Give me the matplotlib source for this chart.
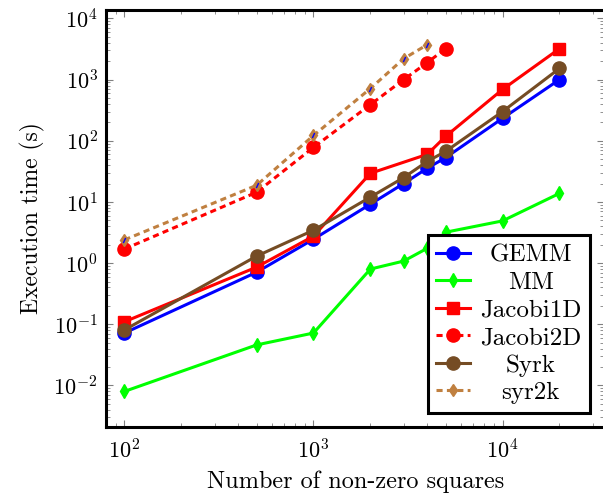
import matplotlib
matplotlib.use("Agg")
import matplotlib.pyplot as plt
from matplotlib.ticker import NullFormatter, LogLocator

plt.rcParams['font.family'] = ['cmr10', 'DejaVu Serif']
plt.rcParams['mathtext.fontset'] = 'cm'
plt.rcParams['axes.formatter.use_mathtext'] = True

x_all = [100, 500, 1000, 2000, 3000, 4000, 5000, 10000, 20000]
x_j1 = [100, 500, 1000, 2000, 4000, 5000, 10000, 20000]
x_j2 = [100, 500, 1000, 2000, 3000, 4000, 5000]
x_s2 = [100, 500, 1000, 2000, 3000, 4000]

gemm = [0.072, 0.71, 2.46, 9.2, 20, 35.6, 53, 233, 1000]
mm = [0.008, 0.046, 0.072, 0.8, 1.08, 1.75, 3.2, 4.9, 13.8]
jacobi1d = [0.11, 0.86, 2.76, 29.4, 60, 118, 690, 3200]
jacobi2d = [1.7, 14.4, 78, 390, 1000, 1900, 3200]
syrk = [0.081, 1.3, 3.45, 12, 25, 46, 67, 300, 1520]
syr2k = [2.4, 18.7, 122, 715, 2200, 3720]

x_ticks = [1e2, 1e3, 1e4]
y_ticks = [1e-2, 1e-1, 1e0, 1e1, 1e2, 1e3, 1e4]

fig = plt.figure(figsize=(6.03, 4.93), dpi=100)
ax = fig.add_axes([0.176, 0.134, 0.826, 0.846])

lw = 2.2
ms = 9.5
ax.plot(x_all, gemm, color='#0000ff', lw=lw, marker='o', ms=ms, label='GEMM')
ax.plot(x_all, mm, color='#00ff00', lw=lw, marker='d', ms=7.5, mfc='#00ff00', mec='#00ff00', label='MM')
ax.plot(x_j1, jacobi1d, color='#ff0000', lw=lw, marker='s', ms=9, label='Jacobi1D')
ax.plot(x_j2, jacobi2d, color='#ff0000', lw=lw, ls=(0, (2.0, 1.4)), marker='o', ms=ms, label='Jacobi2D')
ax.plot(x_all, syrk, color='#754c24', lw=lw, marker='o', ms=ms, label='Syrk')
ax.plot(x_s2, syr2k, color='#c08040', lw=lw, ls=(0, (2.0, 1.4)), marker='d', ms=6, mfc='#c08040', mec='#c08040', label='syr2k')
ax.plot(x_s2, syr2k, ls='none', marker=(2, 0, -25), ms=4, mec='#0000ff', mew=1.0)

ax.set_xscale('log')
ax.set_yscale('log')
ax.set_xlim(80, 34500)
ax.set_ylim(0.0021, 13800)
ax.set_xticks(x_ticks)
ax.set_yticks(y_ticks)
ax.xaxis.set_minor_locator(LogLocator(base=10, subs=range(2, 10), numticks=20))
ax.yaxis.set_minor_locator(LogLocator(base=10, subs=range(2, 10), numticks=20))
ax.xaxis.set_minor_formatter(NullFormatter())
ax.yaxis.set_minor_formatter(NullFormatter())

ax.set_xlabel('Number of non-zero squares', fontsize=17.5, labelpad=6)
ax.set_ylabel('Execution time (s)', fontsize=17, labelpad=6)

for s in ax.spines.values():
    s.set_linewidth(2.2)
ax.tick_params(which='both', direction='in', top=True, right=True, color='#808080', labelsize=16)
ax.tick_params(which='major', length=5, width=0.8)
ax.tick_params(which='minor', length=3, width=0.6)
ax.tick_params(axis='x', pad=8)
ax.tick_params(axis='y', pad=6)

handles, labels = ax.get_legend_handles_labels()
leg = ax.legend(handles[:6], labels[:6], loc='lower right', bbox_to_anchor=(0.972, 0.034), fontsize=18,
                frameon=True, fancybox=False, edgecolor='black', framealpha=1, handlelength=1.35,
                borderpad=0.35, labelspacing=0.2, handletextpad=0.4, borderaxespad=0.0)
leg.get_frame().set_linewidth(2.2)

# center legend labels
renderer = fig.canvas.get_renderer()
texts = leg.get_texts()
widths = [t.get_window_extent(renderer).width for t in texts]
mw = max(widths)
for t, w in zip(texts, widths):
    t.set_x((mw - w) / 2)

fig.savefig('out.png', dpi=100)
